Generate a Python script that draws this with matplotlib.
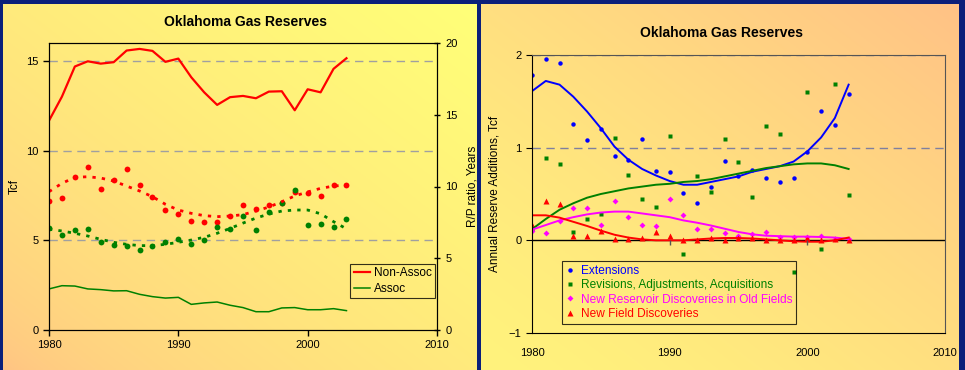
import numpy as np
import matplotlib
matplotlib.use("Agg")
import matplotlib.pyplot as plt

plt.rcParams['font.family'] = ['Liberation Sans', 'DejaVu Sans']

# --- data ---
years = list(range(1980, 2004))

# left chart: reserves (Tcf) and R/P ratio (years)
non_assoc = [11.67, 13.01, 14.69, 14.98, 14.85, 14.93, 15.58, 15.67, 15.56, 14.95, 15.13, 14.09,
             13.25, 12.55, 12.98, 13.05, 12.92, 13.29, 13.31, 12.25, 13.42, 13.25, 14.56, 15.15]
assoc = [2.29, 2.47, 2.45, 2.29, 2.25, 2.18, 2.19, 1.99, 1.86, 1.78, 1.82, 1.43,
         1.51, 1.56, 1.38, 1.25, 1.02, 1.02, 1.23, 1.25, 1.13, 1.13, 1.19, 1.08]
rp_non_assoc = [9.01, 9.18, 10.66, 11.36, 9.80, 10.43, 11.20, 10.08, 9.25, 8.36, 8.08, 7.62,
                7.50, 7.55, 7.92, 8.69, 8.41, 8.69, 8.87, 9.60, 9.53, 9.36, 10.13, 10.13]
rp_assoc = [7.11, 6.64, 6.95, 7.04, 6.11, 5.92, 5.88, 5.57, 5.85, 6.11, 6.34, 5.99,
            6.27, 7.18, 7.04, 7.92, 6.95, 8.20, 8.83, 9.76, 7.34, 7.41, 7.18, 7.71]
# trend curves as drawn in the reference
rp_non_assoc_trend = [9.64, 10.22, 10.64, 10.68, 10.59, 10.38, 10.03, 9.69, 9.29, 8.76, 8.36, 8.13,
                      7.97, 7.90, 7.94, 8.04, 8.29, 8.57, 8.94, 9.34, 9.62, 9.87, 10.03, 10.10]
rp_assoc_trend = [7.02, 6.90, 6.74, 6.55, 6.32, 6.11, 5.97, 5.88, 5.88, 5.97, 6.11, 6.27,
                  6.46, 6.74, 7.08, 7.45, 7.80, 8.08, 8.29, 8.36, 8.36, 8.10, 7.55, 7.05]

# right chart: annual reserve additions (Tcf)
extensions = [1.78, 1.96, 1.91, 1.26, 1.08, 1.20, 0.91, 0.87, 1.09, 0.75, 0.74, 0.51,
              0.40, 0.58, 0.86, 0.69, 0.76, 0.67, 0.63, 0.67, 0.95, 1.40, 1.25, 1.58]
revisions = [0.12, 0.89, 0.82, 0.09, 0.23, 0.28, 1.10, 0.70, 0.45, 0.36, 1.13, -0.15,
             0.69, 0.52, 1.09, 0.84, 0.47, 1.23, 1.15, -0.34, 1.60, -0.09, 1.69, 0.49]
new_reservoirs = [0.10, 0.08, 0.21, 0.35, 0.35, 0.17, 0.42, 0.25, 0.17, 0.15, 0.45, 0.27,
                  0.12, 0.12, 0.08, 0.05, 0.07, 0.09, 0.04, 0.04, 0.04, 0.05, 0.01, 0.01]
new_fields = [0.17, 0.42, 0.39, 0.05, 0.05, 0.10, 0.01, 0.01, 0.02, 0.09, 0.05, 0.00,
              0.00, 0.02, 0.00, 0.02, 0.02, 0.00, 0.00, 0.00, 0.02, 0.00, 0.01, 0.00]
# trend curves as drawn in the reference
extensions_trend = [1.61, 1.72, 1.68, 1.55, 1.39, 1.21, 1.01, 0.87, 0.77, 0.70, 0.64, 0.60,
                    0.60, 0.63, 0.66, 0.69, 0.74, 0.77, 0.80, 0.85, 0.96, 1.11, 1.32, 1.68]
revisions_trend = [0.12, 0.23, 0.33, 0.40, 0.46, 0.50, 0.53, 0.56, 0.58, 0.60, 0.61, 0.63,
                   0.64, 0.66, 0.69, 0.72, 0.75, 0.78, 0.80, 0.82, 0.83, 0.83, 0.81, 0.77]
new_reservoirs_trend = [0.115, 0.165, 0.215, 0.25, 0.28, 0.30, 0.31, 0.31, 0.29, 0.27, 0.25, 0.215,
                        0.19, 0.16, 0.125, 0.09, 0.065, 0.05, 0.045, 0.04, 0.04, 0.036, 0.03, 0.015]
new_fields_trend = [0.27, 0.27, 0.245, 0.20, 0.155, 0.105, 0.06, 0.03, 0.01, 0.0, 0.0, 0.0,
                    0.01, 0.02, 0.025, 0.025, 0.02, 0.01, 0.0, -0.01, -0.015, -0.015, 0.0, 0.03]

W, H = 965, 370


def gradient(c0, c1, power=1.0):
    # diagonal fill: c0 in the lower-left corner, c1 in the upper-right
    n = 200
    u = np.linspace(0, 1, n)[None, :]
    v = np.linspace(1, 0, n)[:, None]
    t = np.clip((u + v) / 2, 0, 1) ** power
    c0 = np.array(matplotlib.colors.to_rgb(c0))
    c1 = np.array(matplotlib.colors.to_rgb(c1))
    return c0 * (1 - t[..., None]) + c1 * t[..., None]


fig = plt.figure(figsize=(W / 100, H / 100), dpi=100, facecolor='#0b1f7a')

# panel backgrounds
bg1 = fig.add_axes([3 / W, 0, 474 / W, 1 - 4 / H], zorder=-10)
bg1.imshow(gradient('#ffc284', '#ffff78', 0.6), aspect='auto', extent=[0, 1, 0, 1])
bg1.axis('off')
bg2 = fig.add_axes([481 / W, 0, 478 / W, 1 - 4 / H], zorder=-10)
bg2.imshow(gradient('#fff37c', '#ffc286', 1.3), aspect='auto', extent=[0, 1, 0, 1])
bg2.axis('off')

# ---------------- left chart ----------------
ax = fig.add_axes([49 / W, 1 - 330 / H, 388 / W, 287 / H])
ax.patch.set_alpha(0)
ax2 = ax.twinx()
ax2.patch.set_alpha(0)

ax.plot(years, non_assoc, color='#ff0000', lw=1.6, label='Non-Assoc')
ax.plot(years, assoc, color='#008000', lw=1.1, label='Assoc')

ax2.plot(years, rp_non_assoc, 'o', color='#ff0000', ms=4.2, mec='none')
ax2.plot(years, rp_assoc, 'o', color='#008000', ms=4.2, mec='none')
ax2.plot(years, rp_non_assoc_trend, color='#ff0000', lw=2, ls=(0, (1.2, 2.2)))
ax2.plot(years, rp_assoc_trend, color='#008000', lw=2, ls=(0, (1.2, 2.2)))

ax.set_xlim(1980, 2010)
ax.set_ylim(0, 16)
ax2.set_ylim(0, 20)
ax.set_xticks([1980, 1990, 2000, 2010])
ax.set_yticks([0, 5, 10, 15])
ax2.set_yticks([0, 5, 10, 15, 20])
for yv in [5, 10, 15]:
    ax.axhline(yv, color='#a0a0a0', lw=1, ls=(0, (6, 4)), zorder=0)
ax.tick_params(labelsize=8, length=4, width=1)
ax2.tick_params(labelsize=8, length=5, width=1, direction='inout')
ax.set_ylabel('Tcf', fontsize=8.5, labelpad=4)
ax2.set_ylabel('R/P ratio, Years', fontsize=8.5, labelpad=6)
fig.text(245 / W, 1 - 22 / H, 'Oklahoma Gas Reserves', ha='center', va='center',
         fontsize=10, fontweight='bold')
leg = ax.legend(loc='lower right', bbox_to_anchor=(0.995, 0.11), fontsize=8.5,
                frameon=True, fancybox=False, handlelength=1.4, borderpad=0.3,
                labelspacing=0.3, handletextpad=0.3, borderaxespad=0)
leg.get_frame().set_edgecolor('black')
leg.get_frame().set_facecolor('none')
leg.get_frame().set_linewidth(0.8)

# ---------------- right chart ----------------
bx = fig.add_axes([532 / W, 1 - 333 / H, 413 / W, 278 / H])
bx.patch.set_alpha(0)

series = [
    (extensions, extensions_trend, 'Extensions', '#0000ff', 'o', 3.2),
    (revisions, revisions_trend, 'Revisions, Adjustments, Acquisitions', '#008000', 's', 3.0),
    (new_reservoirs, new_reservoirs_trend, 'New Reservoir Discoveries in Old Fields', '#ff00ff', 'D', 3.0),
    (new_fields, new_fields_trend, 'New Field Discoveries', '#ff0000', '^', 3.8),
]
for vals, tr, lab, col, mk, ms in series:
    bx.plot(years, vals, mk, color=col, ms=ms, mec='none', label=lab)
for vals, tr, lab, col, mk, ms in series:
    bx.plot(years, tr, color=col, lw=1.4)

bx.set_xlim(1980, 2010)
bx.set_ylim(-1, 2)
bx.set_xticks([1980, 1990, 2000, 2010])
bx.set_yticks([-1, 0, 1, 2])
for yv in [1, 2]:
    bx.axhline(yv, color='#7f7f9f', lw=1, ls=(0, (6, 4)), zorder=0)
bx.axhline(0, color='black', lw=1, zorder=1)
bx.vlines([1990, 2000], -0.05, 0, color='#555555', lw=1)
bx.tick_params(axis='y', labelsize=8, length=4)
bx.tick_params(axis='x', labelsize=8, length=0, pad=11)
bx.spines['top'].set_color('#555555')
bx.spines['right'].set_color('#555555')
bx.set_ylabel('Annual Reserve Additions, Tcf', fontsize=8.5, labelpad=6)
fig.text(722 / W, 1 - 33 / H, 'Oklahoma Gas Reserves', ha='center', va='center',
         fontsize=10, fontweight='bold')
leg2 = bx.legend(loc='upper left', bbox_to_anchor=(0.072, 0.258), bbox_transform=bx.transAxes,
                 fontsize=8.6, frameon=True, fancybox=False, handlelength=0.8,
                 borderpad=0.3, labelspacing=0.2, handletextpad=0.5, borderaxespad=0)
leg2.get_frame().set_edgecolor('black')
leg2.get_frame().set_facecolor('none')
leg2.get_frame().set_linewidth(0.8)
for txt, s in zip(leg2.get_texts(), series):
    txt.set_color(s[3])

# thin divider between the two panels
fig.add_artist(plt.Line2D([479 / W, 479 / W], [0, 1], color='#0b1f7a', lw=2))

fig.savefig('out.png', dpi=100, facecolor=fig.get_facecolor())
